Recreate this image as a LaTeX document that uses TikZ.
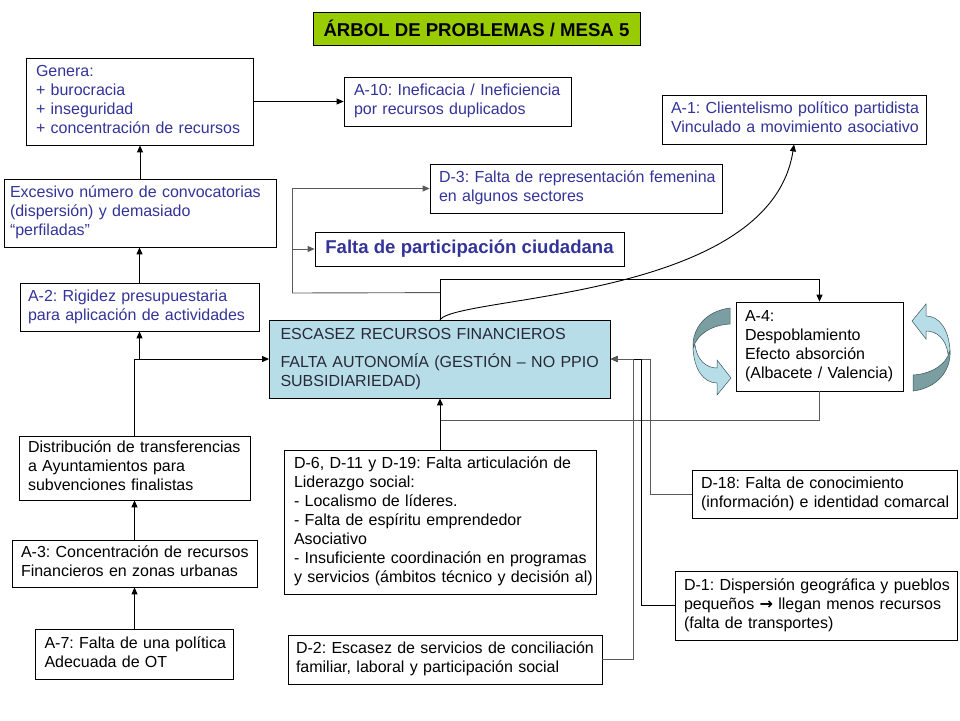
\documentclass[tikz,border=0pt]{standalone}
\usepackage{fontspec}
\setmainfont{Liberation Sans}
\newfontfamily\symfont{DejaVu Sans}
\usetikzlibrary{arrows.meta,calc}
\definecolor{ptblue}{RGB}{51,51,153}
\definecolor{titlegreen}{RGB}{153,204,0}
\definecolor{cyanfill}{RGB}{183,222,232}
\definecolor{ribdark}{RGB}{122,158,162}
\definecolor{ribedge}{RGB}{60,85,88}
\definecolor{linegray}{RGB}{90,90,90}
\definecolor{esctext}{RGB}{40,40,55}
\newcommand{\ls}[1]{\noindent\begin{tabular}{@{}l@{}}#1\end{tabular}}
\frenchspacing
\begin{document}
\frenchspacing
\begin{tikzpicture}[x=1pt,y=-1pt,>={Triangle[length=7pt,width=6pt]},
  box/.style={draw=black, line width=0.8pt, rectangle, inner ysep=0pt, align=left,
    font=\fontsize{16}{19}\selectfont},
  bigtext/.style={font=\fontsize{18.6}{22}\selectfont\bfseries},
  conn/.style={line width=0.9pt, draw=black},
  ribbon/.style={draw=ribedge, line width=0.5pt}]
\useasboundingbox (0,0) rectangle (960,720);

% title
\node[draw=black, line width=0.8pt, fill=titlegreen, minimum width=327pt, minimum height=33pt,
  inner sep=0pt, bigtext] (title) at (476.5,28.5) {ÁRBOL DE PROBLEMAS / MESA 5};

% boxes
\node[box, text=ptblue, minimum width=227pt, minimum height=87pt, text width=207pt, inner xsep=10pt]
  (genera) at (139.5,101.5) {\ls{Genera:\\+ burocracia\\+ inseguridad\\+ concentración de recursos}};
\node[box, text=ptblue, minimum width=227pt, minimum height=49pt, text width=207pt, inner xsep=10pt]
  (a10) at (457.5,101.5) {\ls{A-10: Ineficacia / Ineficiencia\\por recursos duplicados}};
\node[box, text=ptblue, minimum width=264pt, minimum height=49pt, text width=246pt, inner xsep=9pt]
  (a1) at (794,119.5) {\ls{A-1: Clientelismo político partidista\\Vinculado a movimiento asociativo}};
\node[box, text=ptblue, minimum width=292pt, minimum height=49pt, text width=274pt, inner xsep=9pt]
  (d3) at (576,188.5) {\ls{D-3: Falta de representación femenina\\en algunos sectores}};
\node[box, text=ptblue, minimum width=272pt, minimum height=68pt, text width=260pt, inner xsep=6pt]
  (exc) at (140,213) {\ls{Excesivo número de convocatorias\\(dispersión) y demasiado\\“perfiladas”}};
\node[draw=black, line width=0.8pt, text=ptblue, minimum width=309pt, minimum height=34pt, inner sep=0pt, bigtext]
  (fdp) at (469.5,249) {Falta de participación ciudadana};
\node[box, text=ptblue, minimum width=239pt, minimum height=48pt, text width=223pt, inner xsep=8pt]
  (a2) at (139.5,307) {\ls{A-2: Rigidez presupuestaria\\para aplicación de actividades}};
\node[box, fill=cyanfill, text=esctext, minimum width=341pt, minimum height=78pt, text width=319pt, inner xsep=11pt]
  (esc) at (440,359) {\ls{ESCASEZ RECURSOS FINANCIEROS\\[8pt]FALTA AUTONOMÍA (GESTIÓN – NO PPIO\\SUBSIDIARIEDAD)}};
\node[box, minimum width=167pt, minimum height=89pt, text width=149pt, inner xsep=9pt]
  (a4) at (819.5,346.5) {\ls{A-4:\\Despoblamiento\\Efecto absorción\\(Albacete / Valencia)}};
\node[box, minimum width=231pt, minimum height=64pt, text width=213pt, inner xsep=9pt]
  (dist) at (134.5,468) {\ls{Distribución de transferencias\\a Ayuntamientos para\\subvenciones finalistas}};
\node[box, minimum width=245pt, minimum height=47pt, text width=227pt, inner xsep=9pt]
  (a3) at (134.5,563.5) {\ls{A-3: Concentración de recursos\\Financieros en zonas urbanas}};
\node[box, minimum width=198pt, minimum height=50pt, text width=180pt, inner xsep=9pt]
  (a7) at (134.5,654) {\ls{A-7: Falta de una política\\Adecuada de OT}};
\node[box, minimum width=312pt, minimum height=144pt, text width=292pt, inner xsep=10pt]
  (d6) at (440,522) {\ls{D-6, D-11 y D-19: Falta articulación de\\Liderazgo social:\\- Localismo de líderes.\\- Falta de espíritu emprendedor\\Asociativo\\- Insuficiente coordinación en programas\\y servicios (ámbitos técnico y decisión al)}};
\node[box, minimum width=314pt, minimum height=49pt, text width=298pt, inner xsep=8pt]
  (d2) at (445,659.5) {\ls{D-2: Escasez de servicios de conciliación\\familiar, laboral y participación social}};
\node[box, minimum width=265pt, minimum height=48pt, text width=247pt, inner xsep=9pt]
  (d18) at (824.5,494) {\ls{D-18: Falta de conocimiento\\(información) e identidad comarcal}};
\node[box, minimum width=282pt, minimum height=69pt, text width=264pt, inner xsep=9pt]
  (d1) at (816,605.5) {\ls{D-1: Dispersión geográfica y pueblos\\pequeños {\symfont\bfseries →} llegan menos recursos\\(falta de transportes)}};

% left chain
\draw[conn,->] (genera.east) -- (a10.west);
\draw[conn,->] (exc.north) -- (exc.north |- genera.south);
\draw[conn,->] (a2.north) -- (a2.north |- exc.south);
\draw[conn,->] (dist.north) |- (esc.west);
\draw[conn,->] (a2.south |- esc.west) -- (a2.south);
\draw[conn,->] (a3.north) -- (dist.south);
\draw[conn,->] (a7.north) -- (a3.south);

% top of central box
\coordinate (k1) at (292,293);
\draw[conn,->] (esc.north) -- ++(0,-40) -| (a4.north);
\draw[conn,linegray] ($(esc.north)+(0,-27)$) -- (k1);
\draw[conn,linegray,->] (k1) |- (d3.west);
\draw[conn,linegray,->] (k1 |- fdp.west) -- (fdp.west);
\draw[conn,->] (esc.north) .. controls (460,295) and (770,300) .. (a1.south);

% bottom of central box
\coordinate (m1) at (440,420);
\draw[conn,linegray] (a4.south) |- (m1);
\draw[conn,->] (d6.north) -- (esc.south);

% right side
\draw[conn,linegray,->] (d18.west) -- ++(-41,0) |- (esc.east);
\draw[conn,->] (d1.west) -- ++(-33,0) |- (esc.east);
\draw[conn,linegray,->] (d2.east) -- ++(31,0) |- (esc.east);

% circular ribbons around A-4
\begin{scope}
  \filldraw[ribbon, fill=ribdark] (730,308) .. controls (706,311) and (692,328) .. (693,348)
    .. controls (697,334) and (712,325) .. (730,324) -- cycle;
  \filldraw[ribbon, fill=cyanfill] (693,348) .. controls (694,370) and (704,383) .. (717,383)
    -- (717,395) -- (731,378) -- (717,360) -- (717,368)
    .. controls (706,368) and (697,360) .. (695,345) -- cycle;
\end{scope}
\begin{scope}[shift={(1643,699)}, rotate=180]
  \filldraw[ribbon, fill=ribdark] (730,308) .. controls (706,311) and (692,328) .. (693,348)
    .. controls (697,334) and (712,325) .. (730,324) -- cycle;
  \filldraw[ribbon, fill=cyanfill] (693,348) .. controls (694,370) and (704,383) .. (717,383)
    -- (717,395) -- (731,378) -- (717,360) -- (717,368)
    .. controls (706,368) and (697,360) .. (695,345) -- cycle;
\end{scope}
\end{tikzpicture}
\end{document}
